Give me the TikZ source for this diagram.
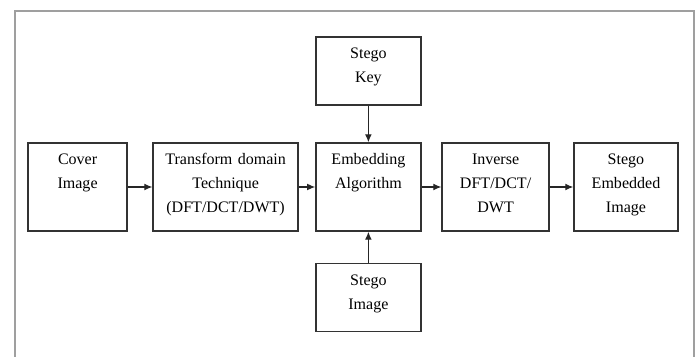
\documentclass[tikz,border=0pt]{standalone}
\usepackage{fontspec}
\setmainfont{Liberation Serif}
\usetikzlibrary{arrows.meta}
\tikzset{
      frame/.style  = { line width=1.3pt, gray!75 },
      block/.style  = { draw=black!80, line width=1pt, align=center, inner sep=0pt,
                        font=\fontsize{11.4}{17}\selectfont, text height=0.55cm },
      wide/.style   = { block, text width=#1, text depth=1.65cm },
      short/.style  = { block, text width=#1, text depth=1.15cm },
      flow/.style   = { line width=0.8pt, black!85, -{Latex[length=0.2cm,width=0.17cm]} }
    }

\begin{document}
\begin{tikzpicture}
      \useasboundingbox (0,0) rectangle (17.425,-8.925);
      % outer frame, runs off the bottom edge
      \draw[frame] (0.375,-8.925) -- (0.375,-0.28) -- (17.36,-0.28) -- (17.36,-8.925);

      % main chain
      \node[wide=2.475cm] (cover)     at (1.94,-4.675)   {Cover\\Image};
      \node[wide=3.625cm] (transform) at (5.64,-4.675)   {Transform domain\\Technique\\(DFT/DCT/DWT)};
      \node[wide=2.625cm] (embed)     at (9.21,-4.675)   {Embedding\\Algorithm};
      \node[wide=2.675cm] (inverse)   at (12.39,-4.675)  {Inverse\\DFT/DCT/\\DWT};
      \node[wide=2.6cm]   (result)    at (15.65,-4.675)  {Stego\\Embedded\\Image};

      % inputs to the embedding step
      \node[short=2.625cm] (key)   at (9.21,-1.775)  {Stego\\Key};
      \node[short=2.625cm] (image) at (9.21,-7.4375) {Stego\\Image};

      \draw[flow] (cover)     -- (transform);
      \draw[flow] (transform) -- (embed);
      \draw[flow] (embed)     -- (inverse);
      \draw[flow] (inverse)   -- (result);
      \draw[flow] (key)       -- (embed);
      \draw[flow] (image)     -- (embed);
\end{tikzpicture}
\end{document}
